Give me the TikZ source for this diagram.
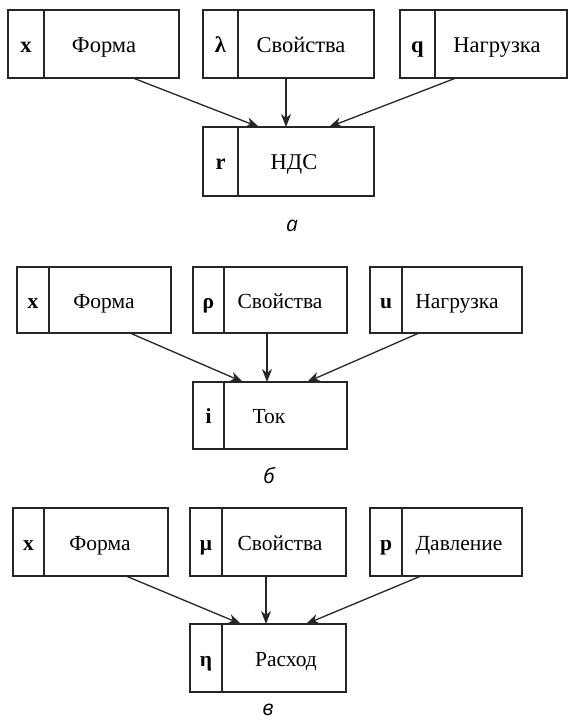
\documentclass[tikz,border=0pt]{standalone}
\usepackage{fontspec}
\setmainfont{Liberation Serif}
\newfontfamily\capfont{Open Sans}
\usetikzlibrary{arrows.meta}
\tikzset{
  frame/.style={draw=black!85, line width=1.3pt, inner sep=0pt, outer sep=0pt, anchor=north west},
  divline/.style={draw=black!85, line width=1.3pt},
  symb/.style={inner sep=0pt, anchor=base, execute at begin node=\bfseries},
  txt/.style={inner sep=0pt, anchor=base},
  arr/.style={draw=black!85, line width=1.3pt, -{Stealth[length=13pt,width=10pt,inset=4pt]}},
  caplabel/.style={inner sep=0pt, font=\capfont\itshape\fontsize{21}{24}\selectfont}
}
% name, x1, x2, xdiv, y1, y2, symbol, text, textx
\newcommand\mkbox[9]{%
  \node[frame, minimum width={(#3-#2)*1pt}, minimum height={(#6-#5)*1pt}] (#1) at (#2,#5) {};
  \draw[divline] (#4,#5) -- (#4,#6);
  \node[symb] (#1s) at ({(#2+#4)/2},{(#5+#6)/2+8}) {#7};
  \node[txt] (#1t) at (#9,{(#5+#6)/2+8}) {#8};
}
\begin{document}
\begin{tikzpicture}[x=1pt,y=-1pt]
\useasboundingbox (0,0) rectangle (569,721);
% panel a
\begin{scope}[font=\fontsize{22.5}{26}\selectfont]
\mkbox{A1}{8}{179}{44}{10}{78}{x}{Форма}{104}
\mkbox{A2}{203}{374}{238}{10}{78}{λ}{Свойства}{301}
\mkbox{A3}{400}{567}{435}{10}{78}{q}{Нагрузка}{497}
\mkbox{AR}{203}{374}{238}{127}{196}{r}{НДС}{294}
\end{scope}
\draw[arr] ([xshift=125pt]A1.south west) -- ([xshift=56pt]AR.north west);
\draw[arr] ([xshift=83pt]A2.south west) -- ([xshift=83pt]AR.north west);
\draw[arr] ([xshift=56pt]A3.south west) -- ([xshift=126pt]AR.north west);
\node[caplabel] (capa) at (292,226) {а};
% panel b
\begin{scope}[font=\fontsize{21.5}{25}\selectfont]
\mkbox{B1}{17}{171}{49}{267}{333}{x}{Форма}{104}
\mkbox{B2}{193}{347}{224}{267}{333}{ρ}{Свойства}{280}
\mkbox{B3}{370}{522}{402}{267}{333}{u}{Нагрузка}{457}
\mkbox{BR}{193}{347}{224}{382}{449}{i}{Ток}{269}
\end{scope}
\draw[arr] ([xshift=113pt]B1.south west) -- ([xshift=50pt]BR.north west);
\draw[arr] ([xshift=74pt]B2.south west) -- ([xshift=74pt]BR.north west);
\draw[arr] ([xshift=49pt]B3.south west) -- ([xshift=114pt]BR.north west);
\node[caplabel] (capb) at (269,476) {б};
% panel c
\begin{scope}[font=\fontsize{21.5}{25}\selectfont]
\mkbox{C1}{13}{168}{44}{508}{576}{x}{Форма}{100}
\mkbox{C2}{190}{346}{222}{508}{576}{μ}{Свойства}{280}
\mkbox{C3}{370}{522}{402}{508}{576}{p}{Давление}{459}
\mkbox{CR}{190}{346}{222}{624}{692}{η}{Расход}{286}
\end{scope}
\draw[arr] ([xshift=113pt]C1.south west) -- ([xshift=51pt]CR.north west);
\draw[arr] ([xshift=76pt]C2.south west) -- ([xshift=76pt]CR.north west);
\draw[arr] ([xshift=51pt]C3.south west) -- ([xshift=116pt]CR.north west);
\node[caplabel] (capc) at (268,710) {в};
\end{tikzpicture}
\end{document}
